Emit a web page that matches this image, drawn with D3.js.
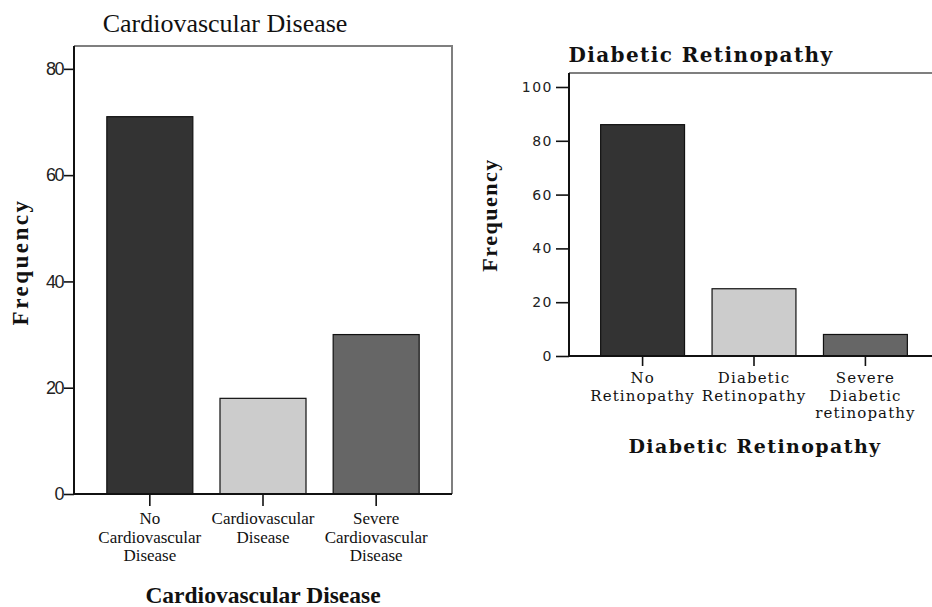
<!DOCTYPE html>
<html>
<head>
<meta charset="utf-8">
<script src="https://cdn.jsdelivr.net/npm/d3@7"></script>
<style>
  body { margin: 0; background: #fff; }
  svg { display: block; }
  .axis .domain { display: none; }
</style>
</head>
<body>
<div id="chart"></div>
<script>
// ---- data ----
const cvdCategories = ["No Cardiovascular Disease", "Cardiovascular Disease", "Severe Cardiovascular Disease"];
const cvdLabels = [["No", "Cardiovascular", "Disease"], ["Cardiovascular", "Disease"], ["Severe", "Cardiovascular", "Disease"]];
const cvdCounts = [71, 18, 30];
const cvdTicks = [0, 20, 40, 60, 80];

const drCategories = ["No Retinopathy", "Diabetic Retinopathy", "Severe Diabetic retinopathy"];
const drLabels = [["No", "Retinopathy"], ["Diabetic", "Retinopathy"], ["Severe", "Diabetic", "retinopathy"]];
const drCounts = [86, 25, 8];
const drTicks = [0, 20, 40, 60, 80, 100];

const barColors = ["#333333", "#cccccc", "#666666"];

const svg = d3.select("#chart")
  .append("svg")
  .attr("width", 932)
  .attr("height", 607);

function drawChart(cfg) {
  const g = svg.append("g");

  const x = d3.scaleBand()
    .domain(cfg.categories)
    .range([cfg.left, cfg.right])
    .paddingInner(cfg.padInner)
    .paddingOuter(cfg.padOuter);

  const y = d3.scaleLinear()
    .domain([0, cfg.yMax])
    .range([cfg.bottom, cfg.top]);

  // gray frame (top + right)
  g.append("path")
    .attr("d", `M${cfg.left},${cfg.top}H${cfg.right}V${cfg.bottom}`)
    .attr("fill", "none")
    .attr("stroke", "#7f7f7f")
    .attr("stroke-width", 2);

  // bars
  g.selectAll("rect.bar")
    .data(cfg.categories)
    .enter()
    .append("rect")
    .attr("class", "bar")
    .attr("x", d => x(d))
    .attr("y", (d, i) => y(cfg.counts[i]))
    .attr("width", x.bandwidth())
    .attr("height", (d, i) => cfg.bottom - y(cfg.counts[i]))
    .attr("fill", (d, i) => barColors[i])
    .attr("stroke", "#111")
    .attr("stroke-width", 1.2);

  // y axis
  const yAxis = d3.axisLeft(y)
    .tickValues(cfg.ticks)
    .tickSize(cfg.yTickSize)
    .tickPadding(cfg.yTickPad)
    .tickFormat(d3.format("d"));

  const yAxisG = g.append("g")
    .attr("class", "axis")
    .attr("transform", `translate(${cfg.left},0)`)
    .call(yAxis);

  yAxisG.selectAll(".tick line")
    .attr("stroke", "#111")
    .attr("stroke-width", 1.6);

  yAxisG.selectAll(".tick text")
    .attr("fill", "#222")
    .style("font-family", cfg.tickFont)
    .style("font-size", cfg.tickSize + "px")
    .style("letter-spacing", cfg.tickSpacing + "px");

  // axis lines (left + bottom), black
  g.append("path")
    .attr("d", `M${cfg.left},${cfg.top}V${cfg.bottom}H${cfg.right}`)
    .attr("fill", "none")
    .attr("stroke", "#111")
    .attr("stroke-width", 2);

  // x ticks + category labels
  const xTick = g.selectAll("g.xtick")
    .data(cfg.categories)
    .enter()
    .append("g")
    .attr("class", "xtick")
    .attr("transform", d => `translate(${x(d) + x.bandwidth() / 2},${cfg.bottom})`);

  xTick.append("line")
    .attr("y1", 0)
    .attr("y2", cfg.xTickSize)
    .attr("stroke", "#111")
    .attr("stroke-width", 1.6);

  xTick.append("text")
    .attr("text-anchor", "middle")
    .attr("fill", "#111")
    .style("font-family", cfg.catFont)
    .style("font-size", cfg.catSize + "px")
    .style("letter-spacing", cfg.catSpacing + "px")
    .selectAll("tspan")
    .data((d, i) => cfg.labels[i])
    .enter()
    .append("tspan")
    .attr("x", 0)
    .attr("y", (d, i) => cfg.catFirst + i * cfg.catLine)
    .text(d => d);

  // top title
  g.append("text")
    .attr("x", cfg.titleX)
    .attr("y", cfg.titleY)
    .attr("text-anchor", "middle")
    .attr("fill", "#111")
    .style("font-family", cfg.titleFont)
    .style("font-size", cfg.titleSize + "px")
    .style("font-weight", cfg.titleWeight)
    .style("letter-spacing", cfg.titleSpacing + "px")
    .text(cfg.title);

  // x axis title
  g.append("text")
    .attr("x", (cfg.left + cfg.right) / 2 + cfg.xTitleShift)
    .attr("y", cfg.xTitleY)
    .attr("text-anchor", "middle")
    .attr("fill", "#111")
    .style("font-family", cfg.xTitleFont)
    .style("font-size", cfg.xTitleSize + "px")
    .style("font-weight", "bold")
    .style("letter-spacing", cfg.xTitleSpacing + "px")
    .text(cfg.xTitle);

  // y axis title
  g.append("text")
    .attr("transform", `translate(${cfg.yTitleX},${cfg.yTitleY}) rotate(-90)`)
    .attr("text-anchor", "middle")
    .attr("fill", "#111")
    .style("font-family", "'Liberation Serif', serif")
    .style("font-size", cfg.yTitleSize + "px")
    .style("font-weight", "bold")
    .style("letter-spacing", cfg.yTitleSpacing + "px")
    .text("Frequency");
}

drawChart({
  categories: cvdCategories,
  labels: cvdLabels,
  counts: cvdCounts,
  ticks: cvdTicks,
  left: 74, right: 452, top: 46, bottom: 494, yMax: 84.3,
  padInner: 0.24, padOuter: 0.29,
  yTickSize: 10, yTickPad: 1, xTickSize: 12,
  tickFont: "'Liberation Sans', sans-serif",
  tickSize: 18, tickSpacing: -1.5,
  catFont: "'Liberation Serif', serif", catSize: 17, catSpacing: 0, catFirst: 30, catLine: 18.5,
  title: "Cardiovascular Disease", titleX: 225, titleY: 32,
  titleFont: "'Liberation Serif', serif", titleSize: 26, titleWeight: "normal", titleSpacing: 0,
  xTitle: "Cardiovascular Disease", xTitleShift: 0, xTitleY: 603,
  xTitleFont: "'Liberation Serif', serif", xTitleSize: 23.5, xTitleSpacing: 0,
  yTitleX: 28, yTitleY: 262, yTitleSize: 23, yTitleSpacing: 2.5
});

drawChart({
  categories: drCategories,
  labels: drLabels,
  counts: drCounts,
  ticks: drTicks,
  left: 569, right: 939, top: 73, bottom: 356, yMax: 105.2,
  padInner: 0.247, padOuter: 0.284,
  yTickSize: 13, yTickPad: 3, xTickSize: 10,
  tickFont: "'DejaVu Sans', sans-serif",
  tickSize: 14, tickSpacing: 1.5,
  catFont: "'DejaVu Serif', serif", catSize: 15, catSpacing: 1.1, catFirst: 27, catLine: 17.5,
  title: "Diabetic Retinopathy", titleX: 701, titleY: 62,
  titleFont: "'DejaVu Serif', serif", titleSize: 20, titleWeight: "bold", titleSpacing: 1.4,
  xTitle: "Diabetic Retinopathy", xTitleShift: 1, xTitleY: 453,
  xTitleFont: "'DejaVu Serif', serif", xTitleSize: 19, xTitleSpacing: 1.4,
  yTitleX: 497, yTitleY: 215, yTitleSize: 22, yTitleSpacing: 1.5
});
</script>
</body>
</html>
